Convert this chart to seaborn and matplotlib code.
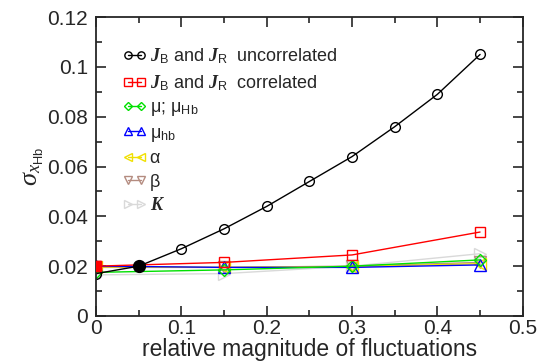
import matplotlib
matplotlib.use("Agg")
import matplotlib.pyplot as plt
import numpy as np
import pandas as pd
import seaborn as sns
from matplotlib.ticker import MultipleLocator, FormatStrFormatter

# data
x_full = [0, 0.05, 0.1, 0.15, 0.2, 0.25, 0.3, 0.35, 0.4, 0.45]
y_uncorr = [0.017, 0.020, 0.027, 0.035, 0.044, 0.054, 0.064, 0.076, 0.089, 0.105]
x_short = [0, 0.15, 0.3, 0.45]
y_corr = [0.020, 0.0215, 0.0245, 0.0337]
y_mu = [0.0175, 0.0185, 0.0200, 0.0225]
y_muhb = [0.0200, 0.0195, 0.0195, 0.0205]
y_alpha = [0.0197, 0.0195, 0.0198, 0.0210]
y_beta = [0.0195, 0.0195, 0.0200, 0.0215]
y_kappa = [0.0165, 0.0170, 0.0200, 0.0250]

sns.set_style("ticks")
plt.rcParams["font.family"] = ["Liberation Sans", "DejaVu Sans"]
plt.rcParams["mathtext.fontset"] = "custom"
plt.rcParams["mathtext.rm"] = "Liberation Sans"
plt.rcParams["mathtext.it"] = "Liberation Serif:italic"
plt.rcParams["mathtext.bf"] = "Liberation Serif:bold:italic"

fig = plt.figure(figsize=(5.4, 3.64), dpi=100)
ax = fig.add_axes([0.178, 0.132, 0.79, 0.821])

series = [
    (x_short, y_kappa, "#d9d9d9", ">", r"$\mathbf{K}$"),
    (x_short, y_beta, "#b48c80", "v", "β"),
    (x_short, y_alpha, "#f0e000", "<", "α"),
    (x_short, y_muhb, "#0000ff", "^", r"μ$_\mathrm{hb}$"),
    (x_short, y_mu, "#00e000", "D", r"μ; μ$_\mathrm{Hb}$"),
    (x_short, y_corr, "#ff0000", "s", r"$\mathbf{J}_\mathrm{B}$ and $\mathbf{J}_\mathrm{R}$  correlated"),
    (x_full, y_uncorr, "black", "o", r"$\mathbf{J}_\mathrm{B}$ and $\mathbf{J}_\mathrm{R}$  uncorrelated"),
]
for xs, ys, col, mk, lab in series:
    df = pd.DataFrame({"x": xs, "y": ys})
    ms = 7 if mk in ("o", "s") else (6 if mk == "D" else 8)
    sns.lineplot(data=df, x="x", y="y", ax=ax, color=col, marker=mk, markersize=ms,
                 markerfacecolor="none", markeredgecolor=col, markeredgewidth=1.0,
                 linewidth=1.0, label=lab)

# filled markers
ax.plot(x_short[0], y_corr[0], "s", color="#ff0000", markersize=7, zorder=5)
ax.plot(x_full[1], y_uncorr[1], "o", color="black", markersize=8.5, zorder=5)

ax.set_xlim(0, 0.5)
ax.set_ylim(0, 0.12)
ax.xaxis.set_major_locator(MultipleLocator(0.1))
ax.xaxis.set_minor_locator(MultipleLocator(0.05))
ax.yaxis.set_major_locator(MultipleLocator(0.02))
ax.yaxis.set_minor_locator(MultipleLocator(0.01))
ax.xaxis.set_major_formatter(FormatStrFormatter("%g"))
ax.yaxis.set_major_formatter(FormatStrFormatter("%g"))
ax.tick_params(which="both", direction="in", top=True, right=True, labelsize=15, width=1.2)
ax.tick_params(axis="x", pad=2)
ax.tick_params(axis="y", pad=6)
ax.tick_params(which="major", length=7)
ax.tick_params(which="minor", length=4)
for s in ax.spines.values():
    s.set_linewidth(1.3)

ax.set_xlabel("relative magnitude of fluctuations", fontsize=16.5, labelpad=0)
ax.set_ylabel(r"$\sigma_{x_\mathrm{Hb}}$", fontsize=19, labelpad=1)

handles, labels = ax.get_legend_handles_labels()
ax.legend(handles[::-1], labels[::-1], loc="upper left", bbox_to_anchor=(0.045, 0.925),
          frameon=False, fontsize=13, numpoints=2, markerscale=0.75,
          handlelength=1.3, handletextpad=0.2, labelspacing=0.36, borderaxespad=0)

fig.savefig("out.png", dpi=100)
